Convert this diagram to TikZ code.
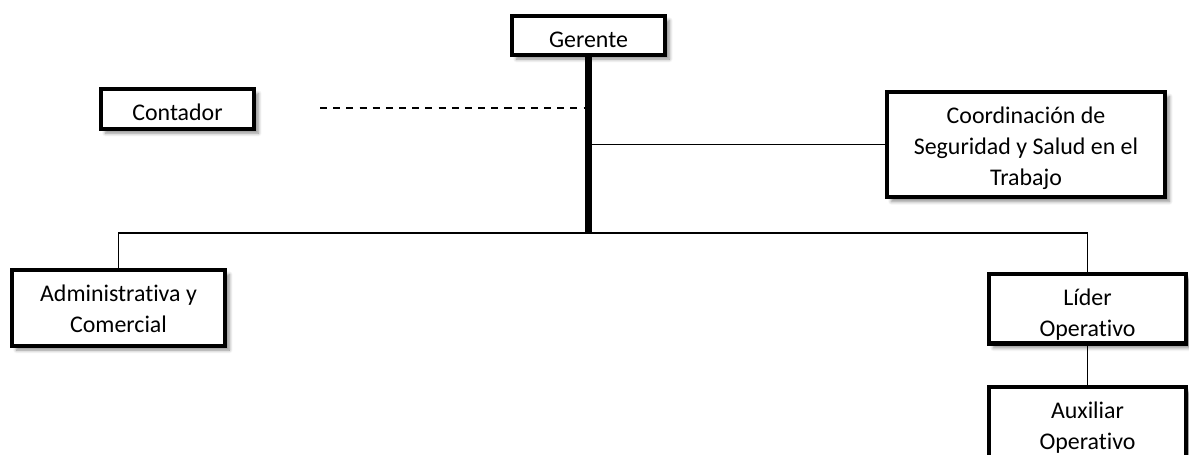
\documentclass[tikz,border=0pt]{standalone}
\usepackage{fontspec}
\setmainfont{Carlito}[Ligatures=NoCommon]
\usetikzlibrary{positioning,shadows.blur}

\begin{document}
\begin{tikzpicture}[x=0.02cm,y=-0.02cm,
    % text height se mide hasta la última línea: una línea más son 17.6pt más
    cargo/.style={draw=black,line width=2.4pt,fill=white,align=center,anchor=north,
      inner xsep=2pt,inner ysep=0pt,text height=18.1pt,
      font=\fontsize{13.6}{17.6}\selectfont,
      blur shadow={shadow xshift=2.5pt,shadow yshift=-2.5pt,
        shadow blur steps=6,shadow opacity=45}},
    doble/.style={text height=35.7pt},
    triple/.style={text height=53.3pt},
    enlace/.style={line width=0.9pt},
    apoyo/.style={line width=1.1pt,dash pattern=on 4pt off 3.5pt},
    troncal/.style={line width=4pt}
  ]
  \useasboundingbox (0,0) rectangle (1189,454);

  % cajas del organigrama
  \node[cargo,minimum width=3.06cm,text depth=3.9pt] (gerente) at (588.5,14) {Gerente};
  \node[cargo,minimum width=3.06cm,text depth=4.5pt] (contador) at (177.5,87) {Contador};
  \node[cargo,triple,minimum width=5.56cm,text depth=6.5pt] (sst) at (1026,90)
    {Coordinación de\\Seguridad y Salud en el\\Trabajo};
  \node[cargo,doble,minimum width=4.26cm,text depth=7.3pt] (admin) at (118.5,268)
    {Administrativa y\\Comercial};
  \node[cargo,doble,minimum width=3.94cm,text depth=3.8pt] (lider) at (1087.5,272)
    {Líder\\Operativo};
  \node[cargo,doble,minimum width=3.94cm,text depth=9.3pt] (auxiliar) at (1087.5,385)
    {Auxiliar\\Operativo};

  % líneas de mando
  \coordinate (barra) at (590,233);
  \coordinate (asesor) at (320,108);
  \draw[troncal] (gerente.south) -- (gerente.south |- barra);
  \draw[apoyo] (asesor) -- (asesor -| gerente.south);
  \draw[enlace] (sst.west) -- (sst.west -| gerente.south);
  \draw[enlace] (admin.north) |- (barra) -| (lider.north);
  \draw[enlace] (lider.south) -- (auxiliar.north);
\end{tikzpicture}
\end{document}
